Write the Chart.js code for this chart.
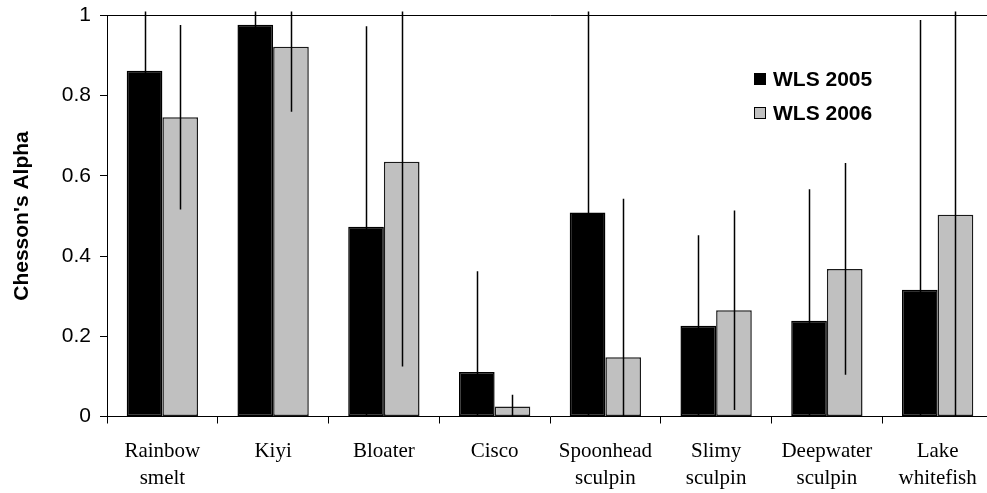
<!DOCTYPE html>
<html>
<head>
<meta charset="utf-8">
<script src="https://cdn.jsdelivr.net/npm/chart.js@4/dist/chart.umd.min.js"></script>
<style>
  html, body { margin: 0; padding: 0; background: #fff; overflow: hidden; }
  #wrap { width: 1000px; height: 493px; }
</style>
</head>
<body>
<div id="wrap"><canvas id="c" width="1000" height="493"></canvas></div>
<script>
// Prey species and electivity (Chesson's alpha) per survey year
const categories = [
  ['Rainbow', 'smelt'], ['Kiyi'], ['Bloater'], ['Cisco'],
  ['Spoonhead', 'sculpin'], ['Slimy', 'sculpin'], ['Deepwater', 'sculpin'], ['Lake', 'whitefish']
];
const wls2005 = [0.862, 0.977, 0.473, 0.111, 0.509, 0.226, 0.239, 0.316];
const wls2006 = [0.746, 0.922, 0.635, 0.025, 0.148, 0.265, 0.368, 0.503];
// Error bar half-widths (same units as alpha)
const err2005 = [0.25, 0.10, 0.50, 0.251, 0.55, 0.226, 0.328, 0.673];
const err2006 = [0.23, 0.162, 0.51, 0.029, 0.395, 0.249, 0.264, 0.55];
const yTickLabels = ['0', '0.2', '0.4', '0.6', '0.8', '1'];
const seriesNames = ['WLS 2005', 'WLS 2006'];

const SANS = '"Liberation Sans", Arial, sans-serif';
const SERIF = '"Liberation Serif", "Times New Roman", serif';

// Vertical error lines centred on each bar, clipped just above the plot box
const errorBars = {
  id: 'errorBars',
  afterDatasetsDraw(chart) {
    const { ctx, chartArea: a, scales: { y } } = chart;
    const errs = [err2005, err2006];
    ctx.save();
    ctx.beginPath();
    ctx.rect(a.left, a.top - 4, a.right - a.left, a.bottom - a.top + 4);
    ctx.clip();
    ctx.strokeStyle = '#000';
    ctx.lineWidth = 1.5;
    chart.data.datasets.forEach((ds, di) => {
      chart.getDatasetMeta(di).data.forEach((bar, i) => {
        const v = ds.data[i], e = errs[di][i];
        const x = Math.round(bar.x) + 0.5;
        ctx.beginPath();
        ctx.moveTo(x, y.getPixelForValue(v - e));
        ctx.lineTo(x, y.getPixelForValue(v + e));
        ctx.stroke();
      });
    });
    ctx.restore();
  }
};

// Legend drawn inside the plot, upper right
const insideLegend = {
  id: 'insideLegend',
  afterDraw(chart) {
    const { ctx } = chart;
    ctx.save();
    ctx.font = 'bold 21px ' + SANS;
    ctx.textBaseline = 'middle';
    ctx.textAlign = 'left';
    chart.data.datasets.forEach((ds, i) => {
      const cy = 79 + i * 34;
      ctx.fillStyle = ds.backgroundColor;
      ctx.fillRect(754, cy - 6, 12, 12);
      ctx.strokeStyle = '#000';
      ctx.lineWidth = 1;
      ctx.strokeRect(754.5, cy - 5.5, 11, 11);
      ctx.fillStyle = '#000';
      ctx.fillText(ds.label, 773, cy + 1);
    });
    ctx.restore();
  }
};

new Chart(document.getElementById('c'), {
  type: 'bar',
  data: {
    labels: categories,
    datasets: [
      { label: seriesNames[0], data: wls2005, backgroundColor: '#000000',
        borderColor: '#000000', borderWidth: 1.5, borderSkipped: false },
      { label: seriesNames[1], data: wls2006, backgroundColor: '#c0c0c0',
        borderColor: '#1a1a1a', borderWidth: 1.5, borderSkipped: false }
    ]
  },
  options: {
    responsive: false,
    animation: false,
    devicePixelRatio: 1,
    layout: { padding: { top: 15.5, right: 7, bottom: 0, left: 0 } },
    datasets: { bar: { categoryPercentage: 0.644, barPercentage: 1.0 } },
    plugins: { legend: { display: false }, tooltip: { enabled: false } },
    scales: {
      x: {
        grid: { offset: true, drawOnChartArea: false, color: '#000', tickColor: '#000', tickLength: 7 },
        border: { color: '#000', width: 1 },
        ticks: { color: '#000', padding: 14.5, maxRotation: 0, autoSkip: false,
                 font: { family: SERIF, size: 21, lineHeight: 1.28 } },
        afterFit(scale) { scale.height = 76.5; }
      },
      y: {
        min: 0, max: 1,
        grid: {
          drawOnChartArea: true,
          color: ctx => (ctx.tick && Math.abs(ctx.tick.value - 1) < 1e-9) ? '#000' : 'rgba(0,0,0,0)',
          tickColor: '#000', tickLength: 7
        },
        border: { color: '#000', width: 1 },
        ticks: { stepSize: 0.2, color: '#000', padding: 9,
                 font: { family: SANS, size: 21 },
                 callback: (v, i) => yTickLabels[i] },
        title: { display: true, text: "Chesson's Alpha", color: '#000',
                 font: { family: SANS, size: 21, weight: 'bold' }, padding: { top: 10, bottom: 0 } },
        afterFit(scale) {
          scale.width = 107;
          scale.paddingTop = 0;
          scale.paddingBottom = 0;
        }
      }
    }
  },
  plugins: [errorBars, insideLegend]
});
</script>
</body>
</html>
